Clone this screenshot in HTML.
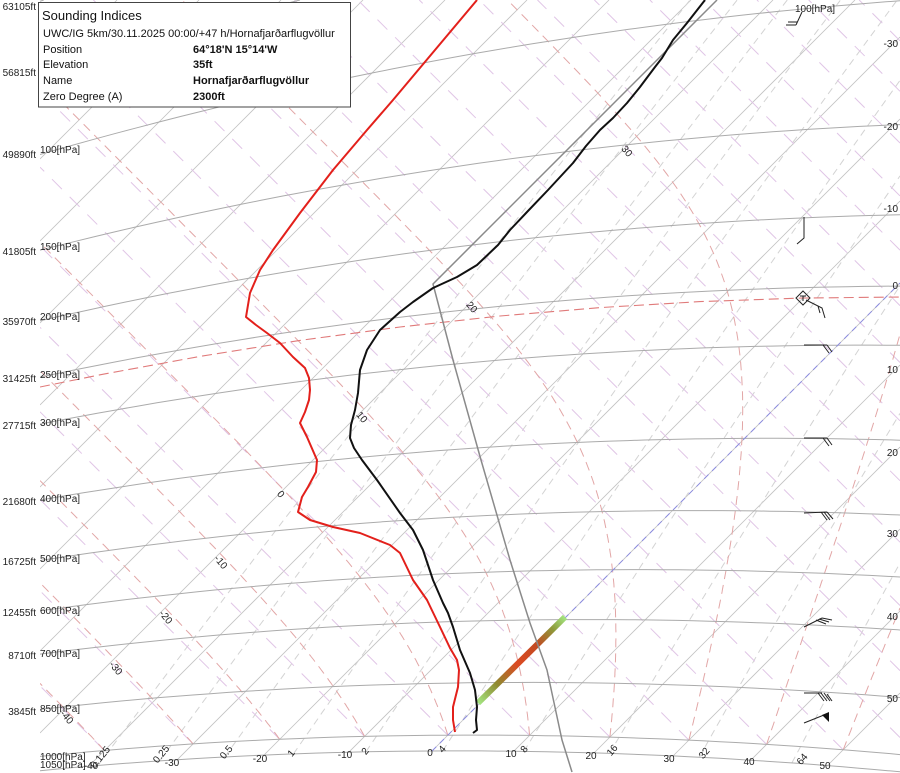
<!DOCTYPE html>
<html><head><meta charset="utf-8"><style>
html,body{margin:0;padding:0;background:#fff;width:900px;height:773px;overflow:hidden;}
svg{display:block;font-family:"Liberation Sans",sans-serif;overflow:hidden;}
</style></head><body>
<svg id="c" width="900" height="773" viewBox="0 0 900 773" xmlns="http://www.w3.org/2000/svg">
<defs>
<clipPath id="pa"><rect x="40" y="0" width="860" height="773"/></clipPath>
<linearGradient id="gr" x1="478" y1="703" x2="565" y2="617" gradientUnits="userSpaceOnUse">
<stop offset="0" stop-color="#a4e682"/>
<stop offset="0.22" stop-color="#8f8a30"/>
<stop offset="0.45" stop-color="#dc4a22"/>
<stop offset="0.68" stop-color="#c24a22"/>
<stop offset="0.86" stop-color="#8e9a3a"/>
<stop offset="1" stop-color="#a4e682"/>
</linearGradient>
</defs>
<rect width="900" height="773" fill="#fff"/>
<g id="grid" clip-path="url(#pa)"></g>
<g clip-path="url(#pa)" fill="none">
<path d="M40 387 L100 374.8 L200 356.4 L300 340.4 L400 327 L500 316 L600 307.6 L700 301.6 L800 298.1 L900 297" stroke="#e07a7a" stroke-width="1.1" stroke-dasharray="10,5"/>
<path d="M432 751 L900 283" stroke="#8c8ce0" stroke-width="1" stroke-dasharray="6,5"/>
<path d="M478 703 L565 617" stroke="url(#gr)" stroke-width="6"/>
<path d="M717 0 L433 284 L453 360 L481 460 L510 560 L530 623 L547 670 L562 740 L572 772" stroke="#8a8a8a" stroke-width="1.5" stroke-linejoin="round"/>
<path d="M477 0 L393 100 L367 130 L333 170 L300 213 L273 250 L260 270 L250 293 L246 317 L256 325 L267 333 L280 343 L293 357 L305 368 L309 378 L310 390 L309 400 L305 412 L300 423 L307 437 L317 460 L316 472 L308 487 L302 497 L298 512 L310 520 L333 527 L360 533 L390 545 L400 553 L413 580 L427 600 L440 627 L450 648 L457 660 L459 670 L458 687 L453 707 L453 720 L455 732" stroke="#e3201b" stroke-width="2" stroke-linejoin="round"/>
<path d="M705 0 L687 23 L673 40 L662 58 L655 67 L640 87 L627 103 L613 118 L600 130 L586 146 L573 163 L548 190 L527 212 L510 230 L498 245 L477 265 L457 277 L433 288 L413 302 L400 312 L380 330 L367 350 L360 370 L358 393 L355 410 L351 425 L350 438 L354 448 L362 460 L377 480 L400 513 L413 530 L423 550 L428 565 L433 580 L443 603 L448 613 L453 627 L460 650 L470 673 L475 690 L477 707 L476 720 L477 730 L473 733" stroke="#111" stroke-width="2" stroke-linejoin="round"/>
</g>
<g stroke="#222" stroke-width="1" fill="none">
<path d="M802 12 L796 25 M786 25 L796 25 M788 22 L797 22"/>
<path d="M804 217 L804 238 L797 244"/>
<path d="M803 291 L810 298 L803 305 L796 298 Z"/>
<path d="M800 296 L806 296 M803 296 L803 301 M806 300 L822 308 L825 318 M818 306 L820 313"/>
<path d="M804 345 L827 345 M823 345 L829 353 M827 345 L832 352"/>
<path d="M804 438 L827 438 M823 438 L829 446 M827 438 L832 445"/>
<path d="M804 513 L827 512 M821 512 L827 520 M824 512 L830 520 M827 512 L833 519"/>
<path d="M804 627 L822 618 M816 620 L826 624 M819 619 L829 622 M822 618 L832 620"/>
<path d="M804 693 L822 693 M818 693 L824 701 M821 693 L827 701 M824 693 L830 701 M827 694 L832 701"/>
<path d="M804 723 L824 715"/>
</g>
<path d="M822 715 L829 712 L829 722 Z" fill="#111"/>
<g font-size="10" fill="#222">
<text x="795" y="12">100[hPa]</text>
<g text-anchor="end">
<text x="36" y="10">63105ft</text>
<text x="36" y="76">56815ft</text>
<text x="36" y="158">49890ft</text>
<text x="36" y="255">41805ft</text>
<text x="36" y="325">35970ft</text>
<text x="36" y="382">31425ft</text>
<text x="36" y="429">27715ft</text>
<text x="36" y="505">21680ft</text>
<text x="36" y="565">16725ft</text>
<text x="36" y="616">12455ft</text>
<text x="36" y="659">8710ft</text>
<text x="36" y="715">3845ft</text>
<text x="898" y="47">-30</text>
<text x="898" y="130">-20</text>
<text x="898" y="212">-10</text>
<text x="898" y="289">0</text>
<text x="898" y="373">10</text>
<text x="898" y="456">20</text>
<text x="898" y="537">30</text>
<text x="898" y="620">40</text>
<text x="898" y="702">50</text>
</g>
<text x="40" y="153">100[hPa]</text>
<text x="40" y="250">150[hPa]</text>
<text x="40" y="320">200[hPa]</text>
<text x="40" y="378">250[hPa]</text>
<text x="40" y="426">300[hPa]</text>
<text x="40" y="502">400[hPa]</text>
<text x="40" y="562">500[hPa]</text>
<text x="40" y="614">600[hPa]</text>
<text x="40" y="657">700[hPa]</text>
<text x="40" y="712">850[hPa]</text>
<text x="40" y="760">1000[hPa]</text>
<text x="40" y="768">1050[hPa]</text>
<g text-anchor="middle">
<text x="91" y="769">-40</text>
<text x="172" y="766">-30</text>
<text x="260" y="762">-20</text>
<text x="345" y="758">-10</text>
<text x="430" y="756">0</text>
<text x="511" y="757">10</text>
<text x="591" y="759">20</text>
<text x="669" y="762">30</text>
<text x="749" y="765">40</text>
<text x="825" y="769">50</text>
<g transform="translate(100,757) rotate(-50)"><text y="3.5">0.125</text></g>
<g transform="translate(161,754) rotate(-50)"><text y="3.5">0.25</text></g>
<g transform="translate(226,752) rotate(-50)"><text y="3.5">0.5</text></g>
<g transform="translate(291,753) rotate(-50)"><text y="3.5">1</text></g>
<g transform="translate(365,751) rotate(-50)"><text y="3.5">2</text></g>
<g transform="translate(442,749) rotate(-50)"><text y="3.5">4</text></g>
<g transform="translate(524,749) rotate(-50)"><text y="3.5">8</text></g>
<g transform="translate(612,750) rotate(-50)"><text y="3.5">16</text></g>
<g transform="translate(704,753) rotate(-50)"><text y="3.5">32</text></g>
<g transform="translate(802,759) rotate(-50)"><text y="3.5">64</text></g>
<g transform="translate(627,151) rotate(50)"><text y="3.5">30</text></g>
<g transform="translate(472,307) rotate(50)"><text y="3.5">20</text></g>
<g transform="translate(362,417) rotate(50)"><text y="3.5">10</text></g>
<g transform="translate(281,494) rotate(50)"><text y="3.5">0</text></g>
<g transform="translate(221,562) rotate(50)"><text y="3.5">-10</text></g>
<g transform="translate(166,617) rotate(50)"><text y="3.5">-20</text></g>
<g transform="translate(116,668) rotate(50)"><text y="3.5">-30</text></g>
<g transform="translate(67,717) rotate(50)"><text y="3.5">-40</text></g>
</g>
</g>
<rect x="38.5" y="2.5" width="312" height="104.5" fill="#fff" stroke="#444" stroke-width="1"/>
<g font-size="11" fill="#111">
<text x="42" y="20" font-size="13">Sounding Indices</text>
<text x="43" y="37">UWC/IG 5km/30.11.2025 00:00/+47 h/Hornafjarðarflugvöllur</text>
<text x="43" y="53">Position</text>
<text x="43" y="68">Elevation</text>
<text x="43" y="84">Name</text>
<text x="43" y="100">Zero Degree (A)</text>
<g font-weight="bold">
<text x="193" y="53">64°18'N 15°14'W</text>
<text x="193" y="68">35ft</text>
<text x="193" y="84">Hornafjarðarflugvöllur</text>
<text x="193" y="100">2300ft</text>
</g>
</g>
</svg>
<script>
(function(){
var NS='http://www.w3.org/2000/svg';
var g=document.getElementById('grid');
var XMIN=40,XMAX=900,YMIN=0,YMAX=772;
function P(T,p){var th=(T+273.15)*Math.pow(1000/p,0.286);var s=1183+8.2*T,d=-12994+2265*Math.log(th);return [(s+d)/2,(s-d)/2];}
function clip(a,b){var x0=a[0],y0=a[1],dx=b[0]-x0,dy=b[1]-y0,t0=0,t1=1;var pp=[-dx,dx,-dy,dy],q=[x0-XMIN,XMAX-x0,y0-YMIN,YMAX-y0];for(var i=0;i<4;i++){if(pp[i]===0){if(q[i]<0)return null;}else{var r=q[i]/pp[i];if(pp[i]<0){if(r>t1)return null;if(r>t0)t0=r;}else{if(r<t0)return null;if(r<t1)t1=r;}}}return [[x0+t0*dx,y0+t0*dy],[x0+t1*dx,y0+t1*dy]];}
function add(pts,stroke,w,dash){var d='',last=null;for(var i=1;i<pts.length;i++){var a=pts[i-1],b=pts[i];if(!isFinite(a[0])||!isFinite(a[1])||!isFinite(b[0])||!isFinite(b[1]))continue;var c=clip(a,b);if(!c)continue;if(!last||Math.abs(last[0]-c[0][0])>0.01||Math.abs(last[1]-c[0][1])>0.01){d+='M'+c[0][0].toFixed(1)+' '+c[0][1].toFixed(1);}d+='L'+c[1][0].toFixed(1)+' '+c[1][1].toFixed(1);last=c[1];}if(!d)return;var e=document.createElementNS(NS,'path');e.setAttribute('d',d);e.setAttribute('fill','none');e.setAttribute('stroke',stroke);e.setAttribute('stroke-width',w);if(dash)e.setAttribute('stroke-dasharray',dash);g.appendChild(e);}
var T,p,k;
for(T=-160;T<=60;T+=10){add([P(T,1050),P(T,20)],'#c2c2c2',0.8);}
[0.125,0.25,0.5,1,2,4,8,16,32,64].forEach(function(r){var pts=[];for(var pp=1050;pp>=40;pp-=10){var e=r*pp/(622+r);var l=Math.log(e/6.112);var t=243.5*l/(17.67-l);pts.push(P(t,pp));}add(pts,'#d3d3d3',1,'7,5');});
for(k=-12;k<=22;k++){var th=273.15+10*k;add([P(th-273.15,1000),P(th*Math.pow(0.03,0.286)-273.15,30)],'#e0c5e6',1,'14,11');}
function es(t){return 6.112*Math.exp(17.67*t/(t+243.5));}
function f(t,pp){var Tk=t+273.15,e=es(t),r=0.622*e/(pp-e);return (287.04*Tk+2.501e6*r)/(pp*(1005.7+2.501e6*2.501e6*r*0.622/(287.04*Tk*Tk)));}
for(var tw=-40;tw<=60;tw+=10){var t=tw;p=1000;var pts=[P(t,p)],h=-4;while(p>32){if(p-es(t)<5)break;var k1=f(t,p),k2=f(t+h/2*k1,p+h/2),k3=f(t+h/2*k2,p+h/2),k4=f(t+h*k3,p+h);t+=h/6*(k1+2*k2+2*k3+k4);p+=h;pts.push(P(t,p));}add(pts,'#e2a6a6',1,'9,6');}
[1050,1000,850,700,600,500,400,300,250,200,150,100,70,50].forEach(function(pp){var pts=[];for(var tt=-170;tt<=80;tt+=2)pts.push(P(tt,pp));add(pts,'#ababab',1);});
})();
</script>
</body></html>
